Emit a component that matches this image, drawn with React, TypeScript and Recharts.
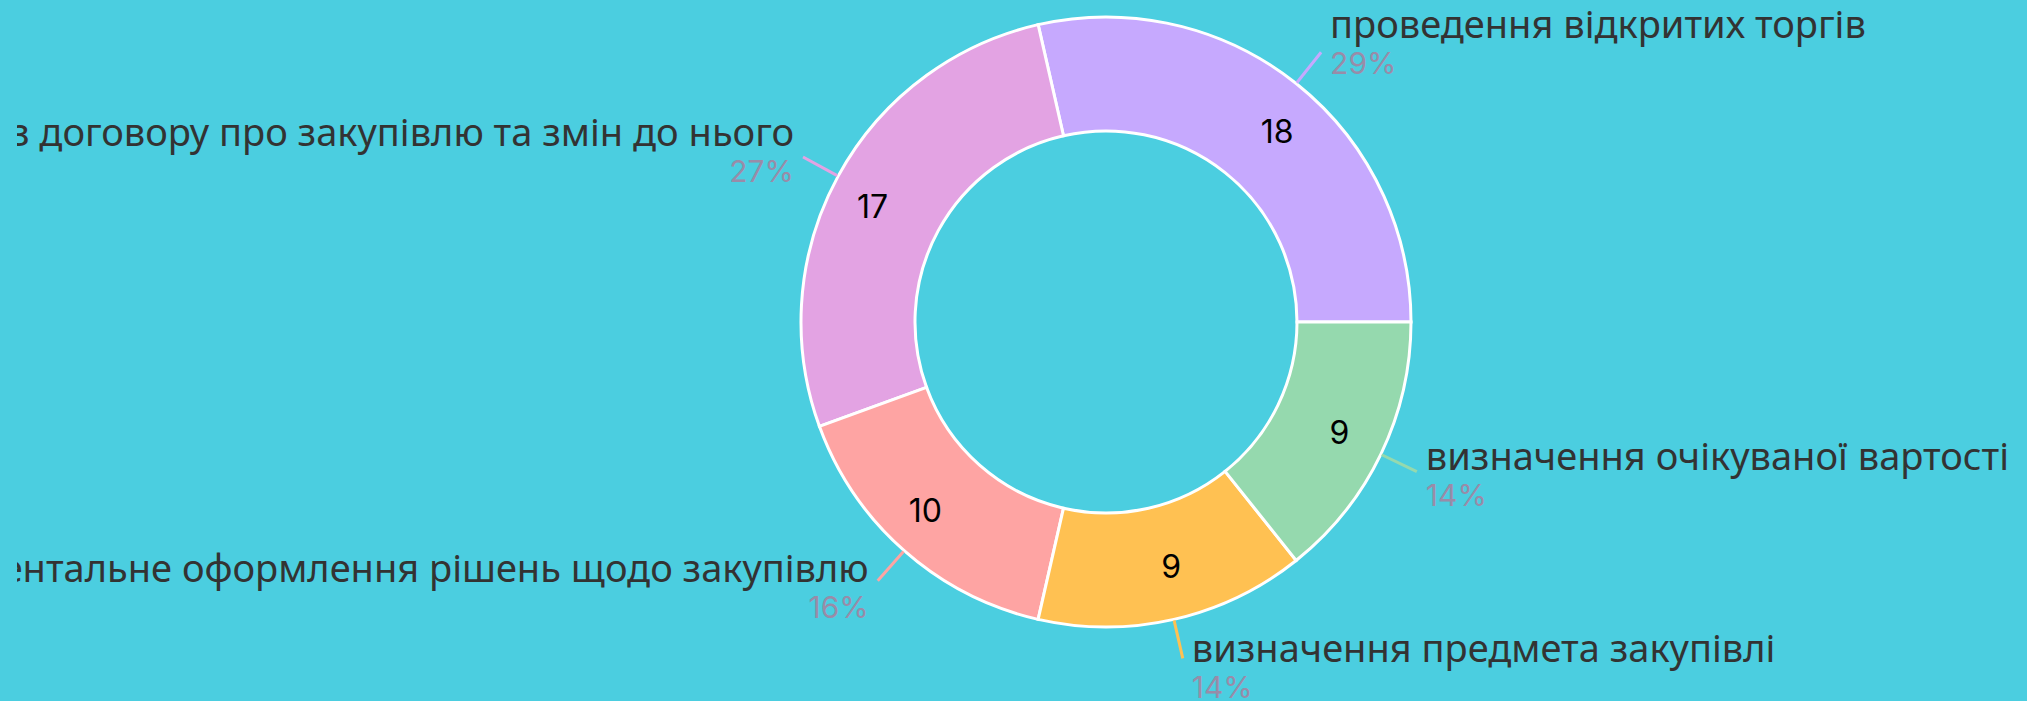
import { PieChart, Pie, Cell } from "recharts";

const categories = [
  "проведення відкритих торгів",
  "Оприлюднення інформації з договору про закупівлю та змін до нього",
  "Документальне оформлення рішень щодо закупівлю",
  "визначення предмета закупівлі",
  "визначення очікуваної вартості",
];
const counts = [18, 17, 10, 9, 9];
const colors = ["#c6a9fe", "#e3a3e3", "#fea4a3", "#ffc152", "#95d9ae"];

const data = categories.map((name, i) => ({ name, value: counts[i] }));

const RAD = Math.PI / 180;

const renderLabel = (props: any) => {
  const { cx, cy, midAngle, innerRadius, outerRadius, value, percent, index } = props;
  const sin = Math.sin(midAngle * RAD);
  const cos = Math.cos(midAngle * RAD);
  const midR = (innerRadius + outerRadius) / 2;
  const right = cos >= 0;
  const anchor = right ? "start" : "end";
  // value text hangs off the ring's middle, anchored on the outer side
  const vx = cx + midR * cos;
  const vy = cy - midR * sin + 3;
  const sx = cx + (outerRadius + 1) * cos;
  const sy = cy - (outerRadius + 1) * sin;
  const ex = cx + (outerRadius + 40) * cos;
  const ey = cy - (outerRadius + 40) * sin;
  const tx = ex + (right ? 9 : -9);
  const nameY = ey - 6 - 10 * sin;
  return (
    <g>
      <text
        x={vx}
        y={vy}
        textAnchor={anchor}
        dominantBaseline="central"
        fill="#000"
        fontFamily="Inter"
        fontSize={32}
      >
        {value}
      </text>
      <line x1={sx} y1={sy} x2={ex} y2={ey} stroke={colors[index]} strokeWidth={3} />
      <text
        x={tx}
        y={nameY}
        textAnchor={anchor}
        fill="#333"
        fontFamily="Noto Sans"
        fontSize={38}
      >
        {categories[index]}
      </text>
      <text
        x={tx}
        y={nameY + 36}
        textAnchor={anchor}
        fill="#998ca8"
        fontFamily="Inter"
        fontSize={30}
      >
        {`${Math.round(percent * 100)}%`}
      </text>
    </g>
  );
};

export default function App() {
  return (
    <div
      style={{
        position: "fixed",
        left: 0,
        top: 0,
        width: 2027,
        height: 701,
        background: "#4bcee0",
        overflow: "hidden",
      }}
    >
      <div style={{ position: "absolute", left: 17, top: 0 }}>
        <PieChart width={2000} height={701}>
          <Pie
            data={data}
            dataKey="value"
            nameKey="name"
            cx={1084}
            cy={317}
            innerRadius={191}
            outerRadius={305}
            startAngle={0}
            endAngle={360}
            stroke="#fff"
            strokeWidth={3}
            label={renderLabel}
            labelLine={false}
            isAnimationActive={false}
          >
            {data.map((d, i) => (
              <Cell key={d.name} fill={colors[i]} />
            ))}
          </Pie>
        </PieChart>
      </div>
    </div>
  );
}
